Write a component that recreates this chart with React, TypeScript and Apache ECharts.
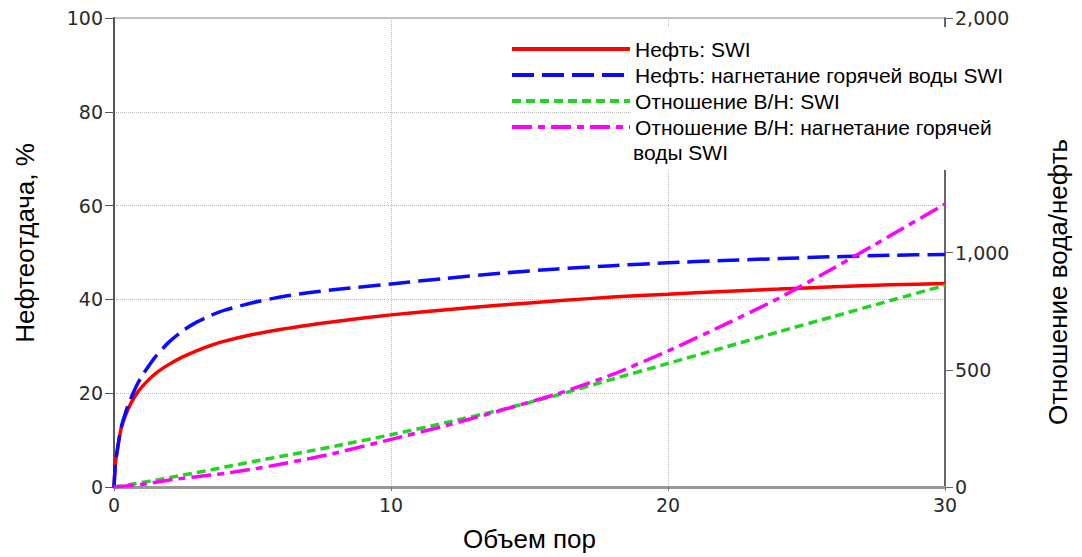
import React, { useEffect, useRef } from "react";
import * as echarts from "echarts";

const xValues = [0, 0.05, 0.1, 0.25, 0.5, 0.75, 1, 1.5, 2, 2.5, 3, 3.5, 4, 5, 6, 7, 8, 10, 12, 14, 16, 18, 20, 22, 24, 26, 28, 30];
const oilSWI = [0, 5, 7, 12.3, 16.5, 19.3, 21.3, 24.2, 26.2, 27.8, 29.1, 30.2, 31.1, 32.5, 33.6, 34.5, 35.3, 36.7, 37.8, 38.8, 39.7, 40.5, 41.1, 41.7, 42.2, 42.7, 43.1, 43.4];
const oilHotSWI = [0, 5, 7.2, 12.5, 17.3, 20.8, 23.6, 27.8, 31, 33.4, 35.2, 36.6, 37.7, 39.3, 40.5, 41.4, 42.1, 43.3, 44.5, 45.6, 46.5, 47.2, 47.8, 48.3, 48.7, 49.1, 49.4, 49.6];
const worSWI = [0, 1, 2, 4, 9, 14, 19, 29, 40, 51, 62, 73, 85, 108, 130, 152, 175, 223, 275, 330, 392, 460, 527, 594, 662, 728, 794, 860];
const worHotSWI = [0, 0.5, 1, 2.5, 5, 8, 11, 20, 30, 37, 44, 51, 58, 76, 97, 120, 145, 203, 262, 328, 397, 480, 580, 690, 805, 935, 1070, 1207];

const seriesNames = [
  "Нефть: SWI",
  "Нефть: нагнетание горячей воды SWI",
  "Отношение В/Н: SWI",
  "Отношение В/Н: нагнетание горячей воды SWI",
];
const legendFirstLine = "Отношение В/Н: нагнетание горячей";
const legendSecondLine = "воды SWI";
const xAxisName = "Объем пор";
const leftAxisName = "Нефтеотдача, %";
const rightAxisName = "Отношение вода/нефть";
const hiddenRightTick = 1500;

const pairs = (ys: number[]) => xValues.map((x, i) => [x, ys[i]]);

export default function App() {
  const ref = useRef<HTMLDivElement>(null);
  useEffect(() => {
    document.body.style.margin = "0";
    if (!ref.current) return;
    const chart = echarts.init(ref.current, null, { renderer: "svg" });
    const tickFont = { fontFamily: "DejaVu Sans", fontSize: 19, color: "#2a2a2a" };
    const nameFont = '26px "Liberation Sans"';
    chart.setOption({
      animation: false,
      backgroundColor: "#fff",
      grid: {
        left: 114,
        right: 137,
        top: 18,
        bottom: 69,
        show: true,
        borderColor: "#888",
        borderWidth: 1,
        backgroundColor: "transparent",
      },
      legend: {
        orient: "vertical",
        left: 510,
        top: 36.5,
        itemWidth: 118,
        itemHeight: 14,
        itemGap: 1,
        padding: 0,
        data: seriesNames,
        formatter: (name: string) => (name === seriesNames[3] ? legendFirstLine : name),
        itemStyle: { color: "transparent", borderColor: "transparent", borderWidth: 0, opacity: 0 },
        lineStyle: { width: 4 },
        textStyle: {
          fontFamily: "Liberation Sans",
          fontSize: 21,
          color: "#000",
          lineHeight: 25,
        },
        z: 6,
      },
      xAxis: {
        type: "value",
        min: 0,
        max: 30,
        interval: 10,
        name: xAxisName,
        nameLocation: "middle",
        nameGap: 39,
        nameTextStyle: { fontFamily: "Liberation Sans", fontSize: 26, color: "#000" },
        axisLine: { lineStyle: { color: "#999", width: 3 } },
        axisTick: { show: true, length: 4, lineStyle: { color: "#777" } },
        axisLabel: { ...tickFont, margin: 8 },
        splitLine: { show: true, lineStyle: { color: "#bbb", type: "dotted", width: 1 } },
      },
      yAxis: [
        {
          type: "value",
          min: 0,
          max: 100,
          interval: 20,
          position: "left",
          axisLine: { show: true, lineStyle: { color: "#555", width: 2 } },
          axisTick: { show: true, length: 9, lineStyle: { color: "#555" } },
          axisLabel: { ...tickFont, margin: 11 },
          splitLine: { show: true, lineStyle: { color: "#bbb", type: "dotted", width: 1 } },
        },
        {
          type: "value",
          min: 0,
          max: 2000,
          interval: 500,
          position: "right",
          axisLine: { show: true, lineStyle: { color: "#666", width: 2 } },
          axisTick: { show: true, length: 8, lineStyle: { color: "#666" } },
          axisLabel: {
            ...tickFont,
            margin: 10,
            formatter: (v: number) => (v === hiddenRightTick ? "" : v.toLocaleString("en-US")),
          },
          splitLine: { show: false },
        },
      ],
      graphic: [
        {
          type: "rect",
          shape: { x: 631, y: 27, width: 390, height: 143 },
          style: { fill: "#fff" },
          z: 3,
        },
        {
          type: "text",
          x: 633,
          y: 152,
          z: 7,
          style: {
            text: legendSecondLine,
            font: '21px "Liberation Sans"',
            fill: "#000",
            verticalAlign: "middle",
            align: "left",
          },
        },
        {
          type: "text",
          x: 25,
          y: 243,
          rotation: Math.PI / 2,
          style: {
            text: leftAxisName,
            font: nameFont,
            fill: "#000",
            align: "center",
            verticalAlign: "middle",
          },
        },
        {
          type: "text",
          x: 1058,
          y: 282,
          rotation: Math.PI / 2,
          style: {
            text: rightAxisName,
            font: nameFont,
            fill: "#000",
            align: "center",
            verticalAlign: "middle",
          },
        },
      ],
      series: [
        {
          name: seriesNames[0],
          type: "line",
          yAxisIndex: 0,
          data: pairs(oilSWI),
          symbol: "none",
          smooth: 0.2,
          lineStyle: { color: "#ff0000", width: 3.5, type: "solid" },
          itemStyle: { color: "#ff0000" },
        },
        {
          name: seriesNames[1],
          type: "line",
          yAxisIndex: 0,
          data: pairs(oilHotSWI),
          symbol: "none",
          smooth: 0.2,
          lineStyle: { color: "#0a0aff", width: 3.5, type: [22, 8] },
          itemStyle: { color: "#0a0aff" },
        },
        {
          name: seriesNames[2],
          type: "line",
          yAxisIndex: 1,
          data: pairs(worSWI),
          symbol: "none",
          smooth: 0.2,
          lineStyle: { color: "#22d422", width: 3.5, type: [9, 5] },
          itemStyle: { color: "#22d422" },
        },
        {
          name: seriesNames[3],
          type: "line",
          yAxisIndex: 1,
          data: pairs(worHotSWI),
          symbol: "none",
          smooth: 0.2,
          lineStyle: { color: "#ff00ff", width: 3.5, type: [20, 6, 7, 6] },
          itemStyle: { color: "#ff00ff" },
        },
      ],
    });
    return () => chart.dispose();
  }, []);
  return <div ref={ref} style={{ width: 1082, height: 557 }} />;
}
